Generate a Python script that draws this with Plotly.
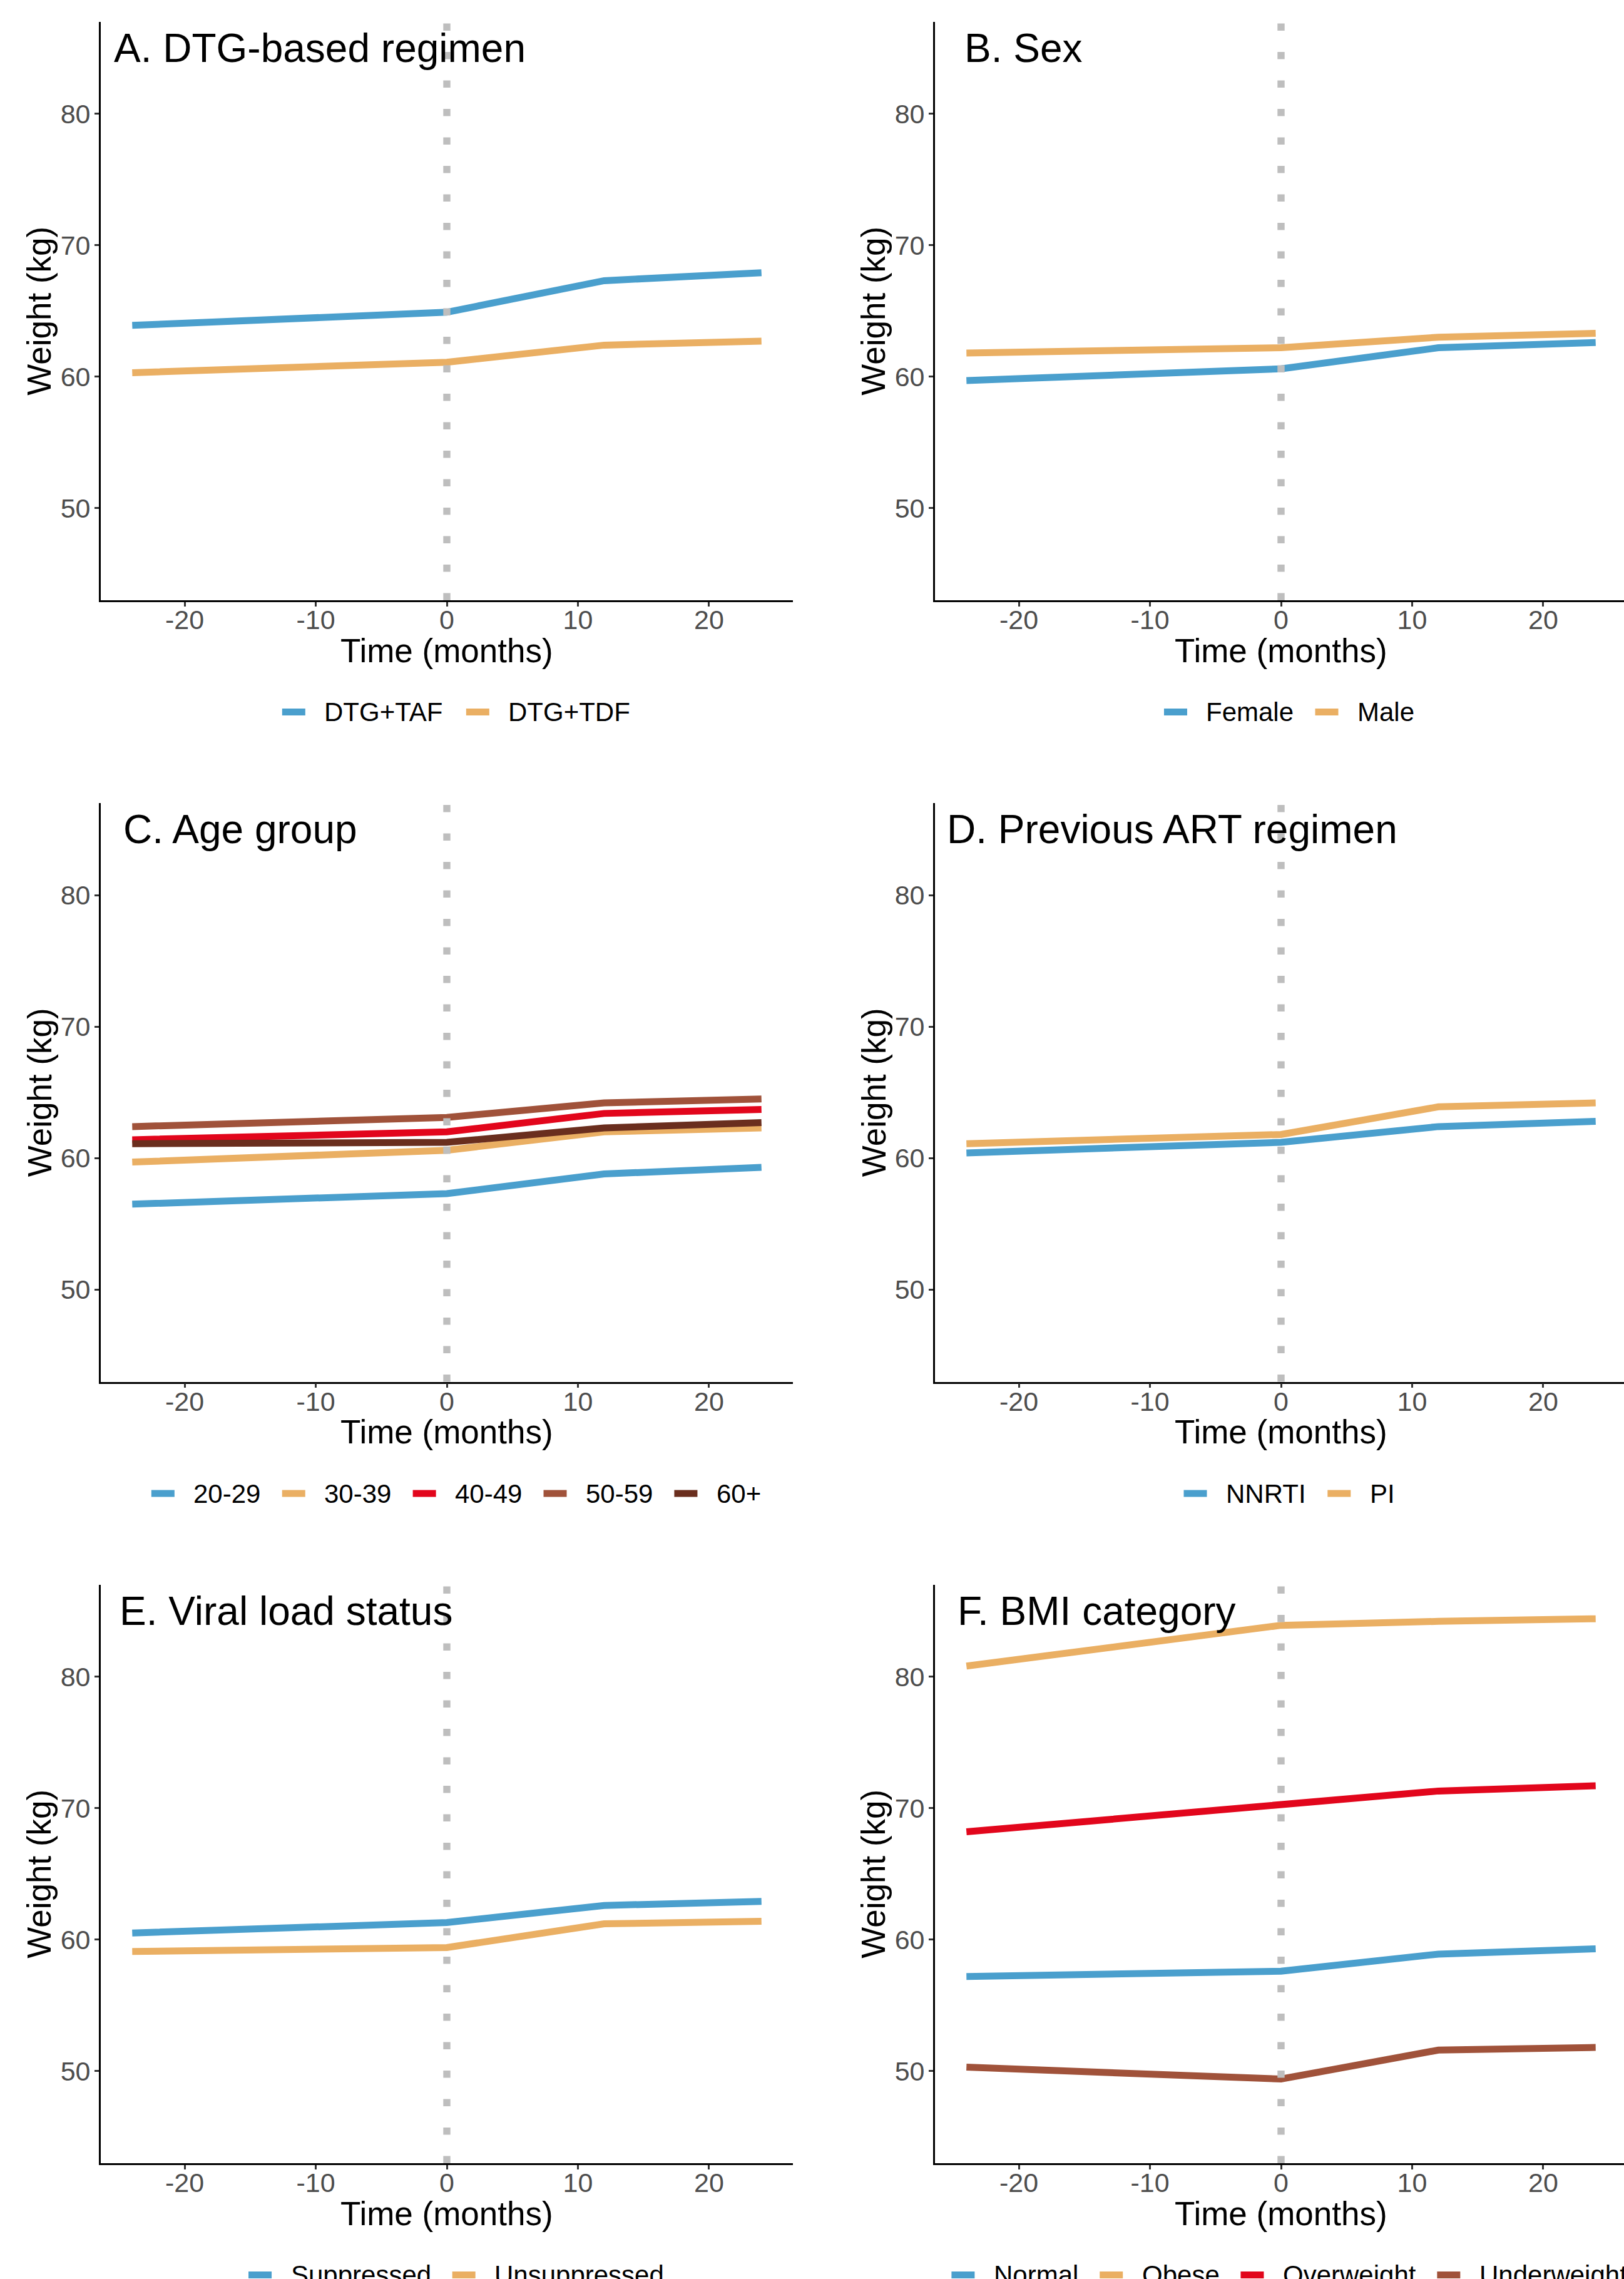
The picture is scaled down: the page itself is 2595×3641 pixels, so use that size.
import plotly.graph_objects as go

# ---------------- data ----------------
time_months = [-24, 0, 12, 24]
x_tick_vals = [-20, -10, 0, 10, 20]
x_tick_text = ["-20", "-10", "0", "10", "20"]
y_tick_vals = [50, 60, 70, 80]
y_tick_text = ["50", "60", "70", "80"]

panel_titles = ["A. DTG-based regimen", "B. Sex", "C. Age group",
                "D. Previous ART regimen", "E. Viral load status", "F. BMI category"]

regimen_groups = ["DTG+TAF", "DTG+TDF"]
dtg_taf = [63.9, 64.9, 67.3, 67.9]
dtg_tdf = [60.3, 61.1, 62.4, 62.7]

sex_groups = ["Female", "Male"]
female = [59.7, 60.6, 62.2, 62.6]
male = [61.8, 62.2, 63.0, 63.3]

age_groups = ["20-29", "30-39", "40-49", "50-59", "60+"]
age_20_29 = [56.5, 57.3, 58.8, 59.3]
age_30_39 = [59.7, 60.6, 62.0, 62.3]
age_40_49 = [61.4, 62.0, 63.4, 63.7]
age_50_59 = [62.4, 63.1, 64.2, 64.5]
age_60_plus = [61.1, 61.2, 62.3, 62.7]

art_groups = ["NNRTI", "PI"]
nnrti = [60.4, 61.2, 62.4, 62.8]
pi = [61.1, 61.8, 63.9, 64.2]

vl_groups = ["Suppressed", "Unsuppressed"]
suppressed = [60.5, 61.3, 62.6, 62.9]
unsuppressed = [59.1, 59.4, 61.2, 61.4]

bmi_groups = ["Normal", "Obese", "Overweight", "Underweight"]
bmi_normal = [57.2, 57.6, 58.9, 59.3]
bmi_obese = [80.8, 83.9, 84.2, 84.4]
bmi_overweight = [68.2, 70.2, 71.3, 71.7]
bmi_underweight = [50.3, 49.4, 51.6, 51.8]

# ---------------- style ----------------
BLUE, ORANGE, RED, BROWN, DARK = "#4A9FCD", "#EAAF63", "#E2061C", "#A0523A", "#6A2E1E"
palette = [BLUE, ORANGE, RED, BROWN, DARK]
FONT = "Liberation Sans, Arial, sans-serif"

panels = [
    (regimen_groups, [dtg_taf, dtg_tdf]),
    (sex_groups, [female, male]),
    (age_groups, [age_20_29, age_30_39, age_40_49, age_50_59, age_60_plus]),
    (art_groups, [nnrti, pi]),
    (vl_groups, [suppressed, unsuppressed]),
    (bmi_groups, [bmi_normal, bmi_obese, bmi_overweight, bmi_underweight]),
]

W, H = 2595, 3641
def PX(p):
    return p / W
def PY(p):
    return 1 - p / H

col_left = [161, 1494]
col_width = 1106
row_top = [34.5, 1283.0, 2531.5]
row_bot = [959.0, 2207.5, 3456.0]
x_full = [-26.4, 26.4]
y_range = [43, 87]
px_per_month = col_width / (x_full[1] - x_full[0])
title_left = [182, 1541, 197, 1513, 191, 1530]
legend_center = [729, 2060]

ARIAL = {'D': 722, 'T': 611, 'G': 778, '+': 584, 'A': 667, 'F': 611, 'e': 556, 'm': 833,
         'a': 556, 'l': 222, 'M': 833, '-': 333, 'N': 722, 'R': 722, 'I': 278, 'P': 667,
         'S': 667, 'u': 556, 'p': 556, 'r': 333, 's': 500, 'd': 556, 'U': 722, 'n': 556,
         'O': 778, 'b': 556, 'v': 500, 'w': 722, 'i': 222, 'g': 556, 'h': 556, 't': 278,
         ' ': 278}
def text_w(s, size):
    return sum(ARIAL.get(ch, 556) for ch in s) / 1000 * size

LEG_FS = 42
KEY_W = 37
KEY_GAP = 30.5
ITEM_GAP = 34
LINE_W = 11

fig = go.Figure()
shapes, annotations = [], []
layout_axes = {}

for i, (groups, series) in enumerate(panels):
    r, c = divmod(i, 2)
    n = "" if i == 0 else str(i + 1)
    xa, ya = "x" + n, "y" + n
    left = col_left[c]
    right = min(left + col_width, W)
    xr = [x_full[0], x_full[0] + (right - left) / px_per_month]

    for g, vals, col in zip(groups, series, palette):
        fig.add_trace(go.Scatter(x=time_months, y=vals, mode="lines", name=g,
                                 line=dict(color=col, width=LINE_W),
                                 xaxis=xa, yaxis=ya, showlegend=False, hoverinfo="skip"))

    axis_common = dict(showgrid=False, zeroline=False, showline=True, linecolor="black",
                       linewidth=2.7, ticks="outside", ticklen=7, tickwidth=2.6,
                       tickcolor="#333333", tickfont=dict(family=FONT, size=43, color="#4D4D4D"))
    layout_axes["xaxis" + n] = dict(axis_common, domain=[PX(left), PX(right)], range=xr,
                                    anchor=ya, tickmode="array", tickvals=x_tick_vals,
                                    ticktext=x_tick_text, ticklabelstandoff=-15)
    layout_axes["yaxis" + n] = dict(axis_common, domain=[PY(row_bot[r]), PY(row_top[r])],
                                    range=y_range, anchor=xa, tickmode="array",
                                    tickvals=y_tick_vals, ticktext=y_tick_text,
                                    ticklabelstandoff=-2)

    # dotted vertical reference line at month 0
    shapes.append(dict(type="line", xref=xa, yref=ya + " domain", x0=0, x1=0, y0=0, y1=1,
                       line=dict(color="#BEBEBE", width=11.4, dash="11.4px,34.1px"),
                       layer="above"))

    # panel title
    annotations.append(dict(text=panel_titles[i], xref="paper", yref="paper",
                            x=PX(title_left[i] - 2), y=PY(row_top[r] + 42),
                            xanchor="left", yanchor="middle", showarrow=False,
                            font=dict(family=FONT, size=64, color="black")))
    # axis titles
    annotations.append(dict(text="Time (months)", xref="paper", yref="paper",
                            x=PX(left + col_width / 2), y=PY(row_bot[r] + 80),
                            xanchor="center", yanchor="middle", showarrow=False,
                            font=dict(family=FONT, size=53, color="black")))
    annotations.append(dict(text="Weight (kg)", xref="paper", yref="paper",
                            x=PX(left - 98), y=PY((row_top[r] + row_bot[r]) / 2),
                            xanchor="center", yanchor="middle", showarrow=False, textangle=-90,
                            font=dict(family=FONT, size=53, color="black")))

    # legend (bottom, horizontal)
    widths = [text_w(g, LEG_FS) for g in groups]
    total = sum(KEY_W + KEY_GAP + w for w in widths) + ITEM_GAP * (len(groups) - 1)
    x0 = legend_center[c] - total / 2
    ly = row_bot[r] + 178.5
    for g, w, col in zip(groups, widths, palette):
        shapes.append(dict(type="line", xref="paper", yref="paper",
                           x0=PX(x0), x1=PX(x0 + KEY_W), y0=PY(ly), y1=PY(ly),
                           line=dict(color=col, width=LINE_W)))
        annotations.append(dict(text=g, xref="paper", yref="paper",
                                x=PX(x0 + KEY_W + KEY_GAP - 2), y=PY(ly),
                                xanchor="left", yanchor="middle", showarrow=False,
                                font=dict(family=FONT, size=LEG_FS, color="black")))
        x0 += KEY_W + KEY_GAP + w + ITEM_GAP

fig.update_layout(width=W, height=H, margin=dict(l=0, r=0, t=0, b=0, autoexpand=False),
                  paper_bgcolor="white", plot_bgcolor="white", showlegend=False,
                  shapes=shapes, annotations=annotations, **layout_axes)

fig.write_html("out.html", config={"displayModeBar": False},
               post_script="document.body.style.margin='0';document.body.style.overflow='hidden';")
